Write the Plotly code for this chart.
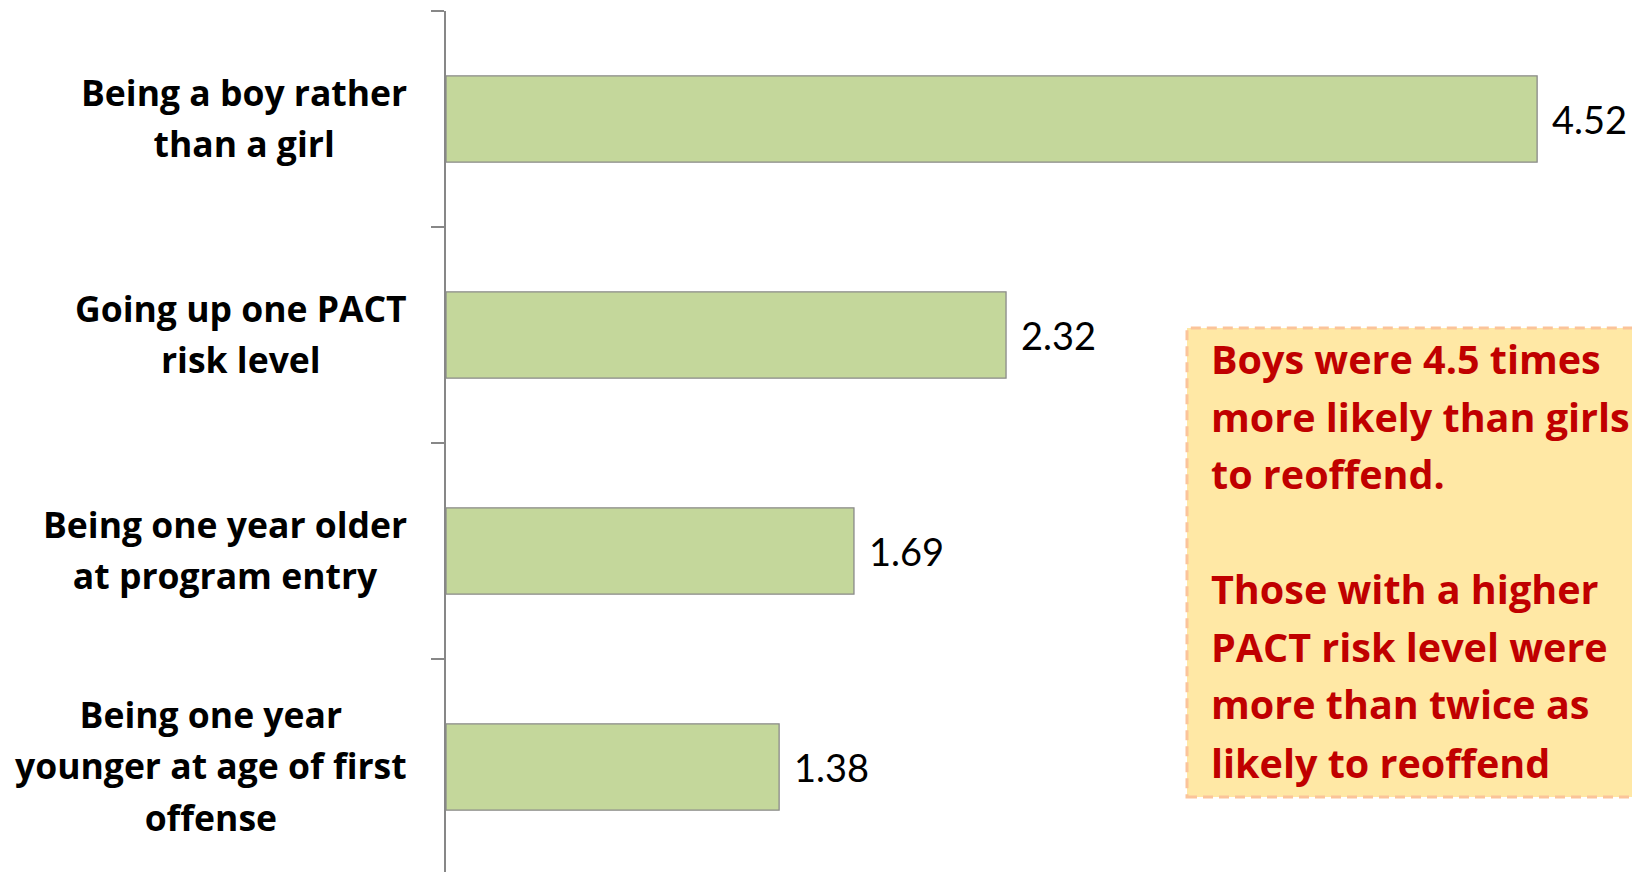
import plotly.graph_objects as go

# ---- data ----
categories = [
    "Being a boy rather<br>than a girl",
    "Going up one PACT<br>risk level",
    "Being one year older<br>at program entry",
    "Being one year<br>younger at age of first<br>offense",
]
odds_ratios = [4.52, 2.32, 1.69, 1.38]
value_labels = ["4.52", "2.32", "1.69", "1.38"]

callout_lines = [
    "Boys were 4.5 times",
    "more likely than girls",
    "to reoffend.",
    "Those with a higher",
    "PACT risk level were",
    "more than twice as",
    "likely to reoffend",
]

# ---- layout constants (page pixels; page body has an 8px margin) ----
BODY = 8
W, H = 1640, 872
PLOT_L, PLOT_T = 446, 11
PLOT_W = W - PLOT_L
PLOT_H = H - PLOT_T

def px_x(x):
    return (x - PLOT_L) / PLOT_W

def px_y(y):
    return (H - y) / PLOT_H

callout_y_px = [359, 417, 474, 589, 647, 704, 763]

FONT = "Open Sans"
LABEL_PX = 35.5    # glyph size of category labels
LABEL_LINE = 39.5  # base size giving ~51px line spacing
CALLOUT_PX = 39.5

fig = go.Figure()
fig.add_trace(go.Bar(
    x=odds_ratios,
    y=list(range(len(categories))),
    orientation="h",
    marker=dict(color="#c4d79b", line=dict(color="#8a8a8a", width=1.3)),
    width=0.4,
    hoverinfo="skip",
))

annotations = []
# category labels (centered lines, block right-aligned near the axis)
for i, c in enumerate(categories):
    txt = "<br>".join('<span style="font-size:%spx">%s</span>' % (LABEL_PX, ln)
                      for ln in c.split("<br>"))
    annotations.append(dict(
        x=px_x(409), y=i, xref="paper", yref="y", text="<b>%s</b>" % txt,
        showarrow=False, xanchor="right", yanchor="middle", align="center",
        yshift=2,
        font=dict(family=FONT, size=LABEL_LINE, color="#000000"),
    ))

# value labels
for i, (v, t) in enumerate(zip(odds_ratios, value_labels)):
    annotations.append(dict(
        x=v, y=i, xref="x", yref="y", text=t, showarrow=False,
        xanchor="left", yanchor="middle", xshift=13,
        font=dict(family="Lato", size=38, color="#000000"),
    ))

# callout text
for line, ypx in zip(callout_lines, callout_y_px):
    annotations.append(dict(
        x=px_x(1209), y=px_y(ypx), xref="paper", yref="paper",
        text=line, showarrow=False, xanchor="left", yanchor="middle",
        font=dict(family=FONT, size=CALLOUT_PX, color="#c00000", weight="bold"),
    ))

shapes = [dict(
    type="rect", xref="paper", yref="paper",
    x0=px_x(1187), x1=1.1, y0=px_y(797), y1=px_y(328),
    fillcolor="#ffe8a5",
    line=dict(color="#fbc49a", width=3, dash="10px,6px"),
    layer="below",
)]

fig.update_layout(
    width=W - BODY, height=H - BODY,
    margin=dict(l=PLOT_L - BODY, r=0, t=PLOT_T - BODY, b=0, pad=0, autoexpand=False),
    paper_bgcolor="white", plot_bgcolor="white",
    showlegend=False,
    annotations=annotations,
    shapes=shapes,
    xaxis=dict(visible=False, range=[0, PLOT_W / 241.4]),
    yaxis=dict(
        tickmode="array",
        tickvals=list(range(len(categories))),
        showticklabels=False,
        range=[3.486, -0.5],
        showline=True, linecolor="#878787", linewidth=1.5,
        ticks="",
        showgrid=False, zeroline=False,
        minor=dict(tickmode="array", tickvals=[-0.5, 0.5, 1.5, 2.5, 3.5],
                   ticks="outside", ticklen=13, tickcolor="#878787", tickwidth=1.5),
    ),
)

fig.write_html("out.html")
